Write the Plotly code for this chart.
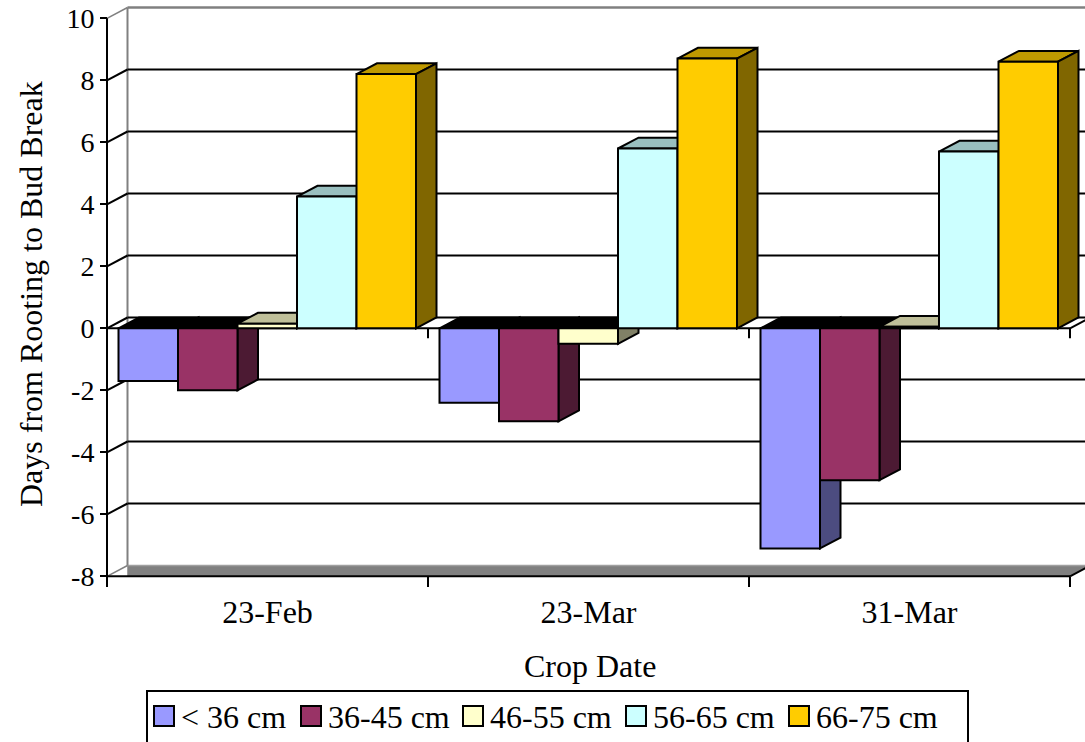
import plotly.graph_objects as go

# ---- data -------------------------------------------------------------
categories = ["23-Feb", "23-Mar", "31-Mar"]
series_names = ["< 36 cm", "36-45 cm", "46-55 cm", "56-65 cm", "66-75 cm"]
lt_36 = [-1.7, -2.4, -7.1]
cm_36_45 = [-2.0, -3.0, -4.9]
cm_46_55 = [0.15, -0.5, 0.05]
cm_56_65 = [4.25, 5.8, 5.7]
cm_66_75 = [8.2, 8.7, 8.6]
y_ticks = [-8, -6, -4, -2, 0, 2, 4, 6, 8, 10]
y_tick_labels = ["-8", "-6", "-4", "-2", "0", "2", "4", "6", "8", "10"]

series_values = [lt_36, cm_36_45, cm_46_55, cm_56_65, cm_66_75]
front_colors = ["#9999FF", "#993366", "#FFFFCC", "#CCFFFF", "#FFCC00"]

# ---- page geometry (pixels) ------------------------------------------
W, H = 1085, 742
X0_PX = 107.0      # left edge of the first category on the front plane
CAT_PX = 321.0     # width of one category
Y0_PX = 328.3      # vertical position of value 0
UNIT_PX = 31.0     # pixels per day
DEPTH_X_PX = 20.5  # oblique depth offset
DEPTH_Y_PX = 10.8
FONT = "Liberation Serif"


def xd(px):
    return (px - X0_PX) / CAT_PX


def yd(py):
    return (Y0_PX - py) / UNIT_PX


def pxp(px):
    return px / W


def pyp(py):
    return 1 - py / H


DX = DEPTH_X_PX / CAT_PX
DY = DEPTH_Y_PX / UNIT_PX
BAR_W = 59.5 / CAT_PX
GROUP_OFF = 11.5 / CAT_PX
YMIN, YMAX = y_ticks[0], y_ticks[-1]
NCAT = len(categories)
XFAR = xd(W + 40)


def shade(hex_color, k):
    r, g, b = (int(hex_color[i:i + 2], 16) for i in (1, 3, 5))
    return f"rgb({round(r * k)},{round(g * k)},{round(b * k)})"


shapes = []


def poly(pts, fill, line_color="black", width=2):
    path = "M " + " L ".join(f"{x:.5f},{y:.5f}" for x, y in pts) + " Z"
    shapes.append(dict(type="path", xref="x", yref="y", path=path,
                       fillcolor=fill, layer="below",
                       line=dict(color=line_color, width=width)))


def seg(x0, y0, x1, y1, color="black", width=2):
    shapes.append(dict(type="line", xref="x", yref="y", x0=x0, y0=y0,
                       x1=x1, y1=y1, layer="below",
                       line=dict(color=color, width=width)))


# floor slab
poly([(DX, YMIN), (NCAT, YMIN), (NCAT + DX, YMIN + DY), (DX, YMIN + DY)],
     "#808080", "#808080", 0.5)
seg(DX, YMIN + DY, NCAT + DX, YMIN + DY, "#A0A0A0", 1.5)

# back wall outline and gridlines, side-wall diagonals
seg(DX, YMIN + DY, DX, YMAX + DY, "#808080", 2)
seg(DX, YMAX + DY, XFAR, YMAX + DY, "#808080", 2.5)
for v in y_ticks:
    edge = v in (YMIN, YMAX)
    seg(0, v, DX, v + DY, "#808080" if edge else "black", 1.5 if edge else 2)
    if not edge:
        seg(DX, v + DY, XFAR, v + DY)

# front value axis and floor front edge
seg(0, YMIN, 0, YMAX)
seg(0, YMIN, NCAT, YMIN)
seg(NCAT, YMIN, NCAT + DX, YMIN + DY)

# category axis crossing at zero
seg(0, 0, NCAT, 0)
seg(NCAT, 0, NCAT + DX, DY)
for k in range(1, NCAT + 1):
    seg(k, 0, k, -10 / UNIT_PX)

# top and side faces of each column, drawn left to right
for ci in range(NCAT):
    for si, vals in enumerate(series_values):
        v = vals[ci]
        col = front_colors[si]
        xl = ci + GROUP_OFF + si * BAR_W
        xr = xl + BAR_W
        ty = max(v, 0)
        poly([(xl, ty), (xr, ty), (xr + DX, ty + DY), (xl + DX, ty + DY)],
             shade(col, 0.75) if v >= 0 else "black")
        poly([(xr, 0), (xr, v), (xr + DX, v + DY), (xr + DX, DY)],
             shade(col, 0.5))

fig = go.Figure()

# front faces of the columns
for si, (name, vals, col) in enumerate(zip(series_names, series_values, front_colors)):
    fig.add_trace(go.Bar(
        x=[i + 0.5 for i in range(NCAT)], y=vals, name=name,
        width=BAR_W, offset=GROUP_OFF + si * BAR_W - 0.5,
        marker=dict(color=col, line=dict(color="black", width=2)),
        showlegend=False, hoverinfo="x+y+name",
    ))

# legend box
leg_left, leg_right, leg_top = 147, 968, 691
shapes.append(dict(type="rect", xref="paper", yref="paper",
                   x0=pxp(leg_left), x1=pxp(leg_right),
                   y0=pyp(leg_top), y1=pyp(H + 30),
                   fillcolor="white", line=dict(color="black", width=2)))
swatch_x = [154, 301, 463, 626, 789]
annotations = []
for sx, name, col in zip(swatch_x, series_names, front_colors):
    shapes.append(dict(type="rect", xref="paper", yref="paper",
                       x0=pxp(sx), x1=pxp(sx + 20), y0=pyp(706), y1=pyp(726),
                       fillcolor=col, line=dict(color="black", width=2)))
    annotations.append(dict(xref="paper", yref="paper", x=pxp(sx + 25), y=pyp(717),
                            xanchor="left", yanchor="middle", showarrow=False,
                            text=name, font=dict(family=FONT, size=32, color="black")))

# axis titles
annotations.append(dict(xref="paper", yref="paper", x=pxp(31), y=pyp(294),
                        text="Days from Rooting to Bud Break", textangle=-90,
                        showarrow=False, xanchor="center", yanchor="middle",
                        font=dict(family=FONT, size=32, color="black")))
annotations.append(dict(xref="paper", yref="paper", x=pxp(590), y=pyp(666),
                        text="Crop Date", showarrow=False,
                        xanchor="center", yanchor="middle",
                        font=dict(family=FONT, size=32, color="black")))

fig.update_layout(
    width=W, height=H, autosize=False,
    margin=dict(l=0, r=0, t=0, b=0),
    paper_bgcolor="white", plot_bgcolor="white",
    barmode="overlay", showlegend=False,
    font=dict(family=FONT, color="black"),
    shapes=shapes, annotations=annotations,
    xaxis=dict(
        range=[xd(0), xd(W)], anchor="free", position=pyp(576.3),
        showline=False, showgrid=False, zeroline=False,
        tickmode="array", tickvals=[i + 0.5 for i in range(NCAT)],
        ticktext=categories, ticks="", ticklabelstandoff=14,
        tickfont=dict(family=FONT, size=32, color="black"),
        minor=dict(tickmode="array", tickvals=list(range(NCAT + 1)),
                   ticks="outside", ticklen=10, tickwidth=2, tickcolor="black",
                   showgrid=False),
        fixedrange=True,
    ),
    yaxis=dict(
        range=[yd(H), yd(0)], anchor="free", position=pxp(107),
        showline=False, showgrid=False, zeroline=False,
        tickmode="array", tickvals=y_ticks, ticktext=y_tick_labels,
        ticks="outside", ticklen=7, tickwidth=2, tickcolor="black",
        tickfont=dict(family=FONT, size=28, color="black"),
        fixedrange=True,
    ),
)

fig.write_html("out.html")
